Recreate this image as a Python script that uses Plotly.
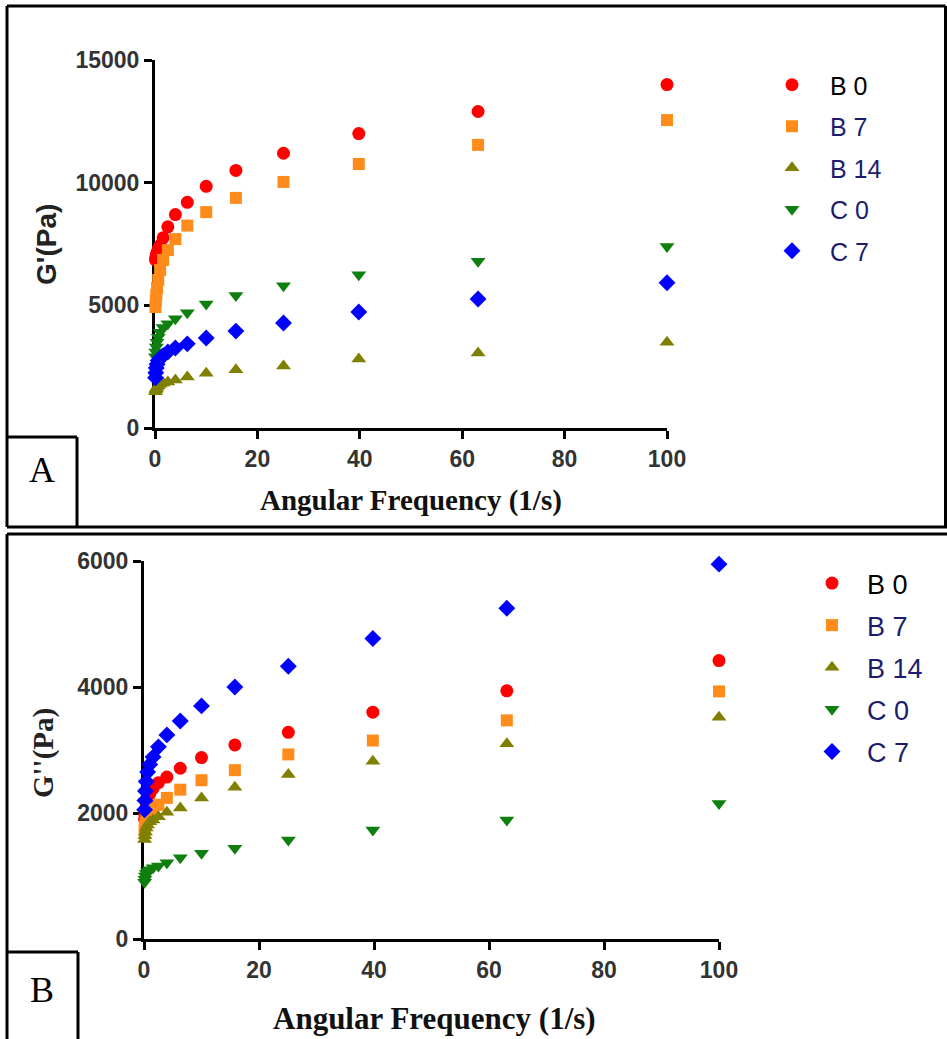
import plotly.graph_objects as go

# Angular frequency sweep (1/s), 5 points per decade
freq = [0.1, 0.158, 0.251, 0.398, 0.631, 1.0, 1.58, 2.51, 3.98, 6.31,
        10.0, 15.8, 25.1, 39.8, 63.1, 100.0]

series_names = ["B 0", "B 7", "B 14", "C 0", "C 7"]

# Storage modulus G' (Pa)
gp_B0 = [6850, 6950, 7050, 7150, 7300, 7450, 7750, 8200, 8700, 9200,
         9850, 10500, 11200, 12000, 12900, 14000]
gp_B7 = [4930, 5180, 5420, 5700, 6030, 6440, 6850, 7250, 7700, 8250,
         8800, 9380, 10030, 10760, 11540, 12550]
gp_B14 = [1480, 1550, 1600, 1660, 1720, 1780, 1830, 1880, 1960, 2080,
          2230, 2370, 2530, 2810, 3060, 3500]
gp_C0 = [2900, 3100, 3300, 3500, 3700, 3900, 4100, 4250, 4450, 4700,
         5050, 5400, 5800, 6250, 6800, 7400]
gp_C7 = [2050, 2250, 2450, 2600, 2750, 2850, 2950, 3100, 3260, 3430,
         3670, 3950, 4280, 4730, 5260, 5920]

# Loss modulus G'' (Pa)
gpp_B0 = [1900, 1980, 2060, 2140, 2220, 2300, 2390, 2480, 2570, 2710,
          2880, 3080, 3280, 3600, 3940, 4420]
gpp_B7 = [1720, 1780, 1840, 1900, 1960, 2020, 2070, 2130, 2240, 2370,
          2520, 2680, 2930, 3150, 3470, 3930]
gpp_B14 = [1580, 1640, 1700, 1760, 1810, 1860, 1890, 1940, 2010, 2080,
           2240, 2410, 2610, 2820, 3100, 3520]
gpp_C0 = [900, 950, 1000, 1040, 1070, 1100, 1130, 1160, 1210, 1290,
          1360, 1440, 1570, 1730, 1890, 2150]
gpp_C7 = [2050, 2200, 2350, 2500, 2650, 2770, 2890, 3050, 3240, 3460,
          3700, 4000, 4330, 4770, 5250, 5950]

x_ticks = [0, 20, 40, 60, 80, 100]
gp_ticks = [0, 5000, 10000, 15000]
gpp_ticks = [0, 2000, 4000, 6000]

colors = ["#ff0000", "#ff8c1a", "#808000", "#0f7f0f", "#0000ff"]
symbols = ["circle", "square", "triangle-up", "triangle-down", "diamond"]
sizes = [13, 12, 13, 13, 13]

W, H = 947, 1039


def px(x):
    return x / W


def py(y):
    return 1 - y / H


fig = go.Figure()

gp_data = [gp_B0, gp_B7, gp_B14, gp_C0, gp_C7]
gpp_data = [gpp_B0, gpp_B7, gpp_B14, gpp_C0, gpp_C7]


def label(name):
    col = "#000000" if name == "B 0" else "#1c1c6e"
    return f'<span style="color:{col}">{name}</span>'


for i, name in enumerate(series_names):
    fig.add_trace(go.Scatter(
        x=freq, y=gp_data[i], mode="markers", name=label(name),
        marker=dict(symbol=symbols[i], size=sizes[i], color=colors[i]),
        xaxis="x", yaxis="y", legend="legend", legendgroup="a" + name,
        cliponaxis=False))

for i, name in enumerate(series_names):
    fig.add_trace(go.Scatter(
        x=freq, y=gpp_data[i], mode="markers", name=label(name),
        marker=dict(symbol=symbols[i], size=sizes[i], color=colors[i]),
        xaxis="x2", yaxis="y2", legend="legend2", legendgroup="b" + name,
        cliponaxis=False))

tick_font = dict(family="Liberation Sans, Arial, sans-serif",
                 size=23, color="#333333", weight="bold")

axis_common = dict(showgrid=False, zeroline=False, showline=True,
                   linecolor="black", linewidth=3, ticks="outside",
                   ticklen=8, tickwidth=3, tickcolor="black",
                   tickfont=tick_font, layer="below traces",
                   automargin=False, fixedrange=True)

fig.update_layout(
    width=W, height=H, autosize=False,
    margin=dict(l=0, r=0, t=0, b=0, pad=0, autoexpand=False),
    paper_bgcolor="white", plot_bgcolor="white",
    xaxis=dict(domain=[px(155), px(667)], range=[0, 100], tickvals=x_ticks,
               ticktext=[str(v) for v in x_ticks], anchor="y", **axis_common),
    yaxis=dict(domain=[py(428), py(60)], range=[0, 15000], tickvals=gp_ticks,
               ticktext=[str(v) for v in gp_ticks], anchor="x", **axis_common),
    xaxis2=dict(domain=[px(144), px(719)], range=[0, 100], tickvals=x_ticks,
                ticktext=[str(v) for v in x_ticks], anchor="y2", **axis_common),
    yaxis2=dict(domain=[py(939), py(561)], range=[0, 6000], tickvals=gpp_ticks,
                ticktext=[str(v) for v in gpp_ticks], anchor="x2", **axis_common),
    legend=dict(x=px(754), y=py(62), xanchor="left", yanchor="top",
                bgcolor="rgba(0,0,0,0)", itemwidth=66, tracegroupgap=6,
                font=dict(family="Liberation Sans, Arial", size=25, color="#1c1c6e")),
    legend2=dict(x=px(797), y=py(559), xanchor="left", yanchor="top",
                 bgcolor="rgba(0,0,0,0)", itemwidth=60, tracegroupgap=4,
                 font=dict(family="Liberation Sans, Arial", size=27, color="#1c1c6e")),
    showlegend=True,
)

serif = "Liberation Serif, Times New Roman, serif"
sans = "Liberation Sans, Arial, sans-serif"

annotations = [
    dict(x=px(411), y=py(500), text="<b>Angular Frequency (1/s)</b>",
         font=dict(family=serif, size=29, color="#111111")),
    dict(x=px(434), y=py(1018), text="<b>Angular Frequency (1/s)</b>",
         font=dict(family=serif, size=31, color="#111111")),
    dict(x=px(46), y=py(245), text="<b>G'(Pa)</b>", textangle=-90,
         font=dict(family=sans, size=28, color="#222222")),
    dict(x=px(43), y=py(753), text="<b>G''(Pa)</b>", textangle=-90,
         font=dict(family=serif, size=29, color="#222222")),
    dict(x=px(42), y=py(470), text="A",
         font=dict(family=serif, size=36, color="black")),
    dict(x=px(42), y=py(990), text="B",
         font=dict(family=serif, size=36, color="black")),
]
for a in annotations:
    a.update(xref="paper", yref="paper", showarrow=False,
             xanchor="center", yanchor="middle")
fig.update_layout(annotations=annotations)

# Panel frames (panel B runs off the bottom and right edges of the page)
line = dict(color="black", width=3)
segments = [
    # panel A frame
    (7, 6, 945.5, 6), (7, 6, 7, 527), (945.5, 6, 945.5, 527), (7, 527, 947, 527),
    # panel A label box
    (7, 437, 77, 437), (77, 437, 77, 527),
    # panel B frame
    (7, 534, 947, 534), (7, 534, 7, 1039),
    # panel B label box
    (7, 952, 78, 952), (78, 952, 78, 1039),
]
shapes = [dict(type="line", xref="paper", yref="paper",
               x0=px(a), y0=py(b), x1=px(c), y1=py(d), line=line)
          for a, b, c, d in segments]
fig.update_layout(shapes=shapes)

fig.write_html(
    "out.html",
    config={"responsive": False, "displayModeBar": False},
    post_script="document.body.style.margin='0';document.body.style.overflow='hidden';",
)
